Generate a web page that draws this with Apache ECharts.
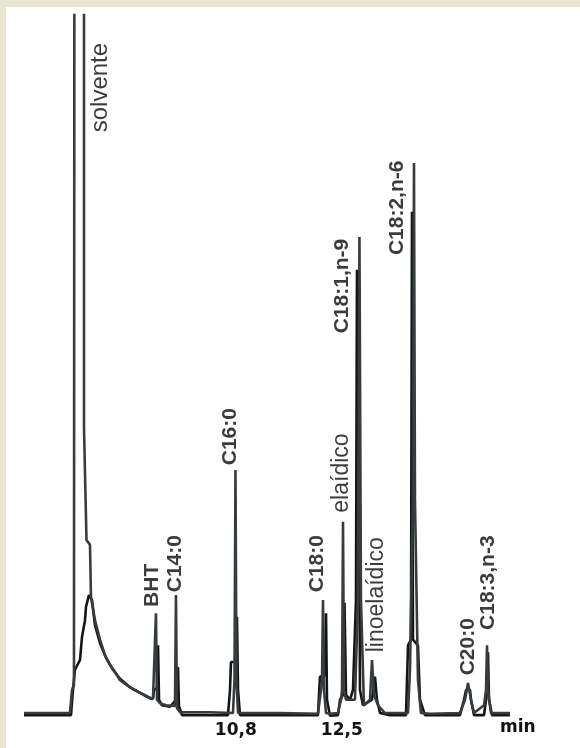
<!DOCTYPE html>
<html><head><meta charset="utf-8">
<script src="https://cdn.jsdelivr.net/npm/echarts@6/dist/echarts.min.js"></script>
<style>
html,body{margin:0;padding:0;background:#e9e5d0;width:580px;height:748px;overflow:hidden}
#panel{position:absolute;left:6px;top:7px;width:574px;height:741px;background:#fff}
#c{position:absolute;left:0;top:0;width:580px;height:748px}
</style></head>
<body><div id="panel"></div><div id="c"></div>
<script>
// Retention time (min) and detector response (arbitrary units) — chromatogram trace A (taller peaks)
const traceATime = [7.40,8.138,8.170,8.202,8.210,8.363,8.363,8.395,8.403,8.459,8.475,8.507,8.539,8.620,8.700,8.780,8.860,8.941,9.053,9.149,9.262,9.374,9.470,
  9.502,9.518,9.534,9.583,9.679,9.823,9.839,9.855,9.904,10.385,
  10.754,10.778,10.794,10.810,10.835,11.509,11.541,12.118,
  12.166,12.183,12.199,12.215,12.247,12.311,12.439,
  12.488,12.504,12.520,12.536,12.568,
  12.712,12.760,12.784,12.808,12.856,
  12.953,12.985,13.017,13.082,13.194,
  13.563,13.595,13.643,13.659,13.675,13.723,13.771,13.916,14.397,
  14.478,14.526,14.574,14.622,
  14.783,14.815,14.831,14.847,14.895,15.2];
const traceAValue = [0,0,3.3,4.0,130,130,40.8,40.8,24.8,24.1,16.6,16.5,13.3,10.5,8.3,6.9,5.9,4.7,4.0,3.4,2.9,2.4,2.0,
  1.9,14.3,1.9,1.4,1.1,1.0,16.9,0.7,0.1,0.1,
  0,4.7,34.8,4.7,0,0,-0.1,-0.1,
  3.3,4.7,16.2,3.3,0,-0.1,0,
  1.9,3.3,27.4,3.3,1.9,
  1.9,16.2,68.2,16.2,1.1,
  1.9,7.6,2.6,1.1,0,
  0,6.2,30.5,78.8,30.5,4.7,0,-0.1,0,
  1.9,4.3,1.9,0,
  1.1,3.3,9.7,3.3,0,0];
// Trace B (second, overlaid chromatogram with shorter peaks)
const traceBTime = [7.40,8.154,8.186,8.218,8.299,8.331,8.379,8.395,8.443,8.491,8.539,8.620,8.716,8.828,8.941,9.101,9.262,9.422,
  9.470,9.486,9.534,9.551,9.567,9.615,9.743,
  9.839,9.871,9.887,9.936,10.674,
  10.706,10.722,10.786,10.818,10.835,10.867,
  12.118,12.150,12.231,12.247,12.263,12.311,12.439,
  12.472,12.520,12.544,12.568,12.632,
  12.680,12.728,12.744,12.768,12.792,12.840,
  12.985,13.033,13.065,13.114,13.274,
  13.531,13.563,13.611,13.627,13.643,13.723,13.755,13.835,14.397,
  14.462,14.494,14.558,14.574,14.622,
  14.783,14.815,14.847,14.863,14.911,15.2];
const traceBValue = [-0.3,-0.3,3.3,6.2,7.6,10.9,13.3,15.2,16.9,16.2,12.6,10.0,7.9,6.2,4.9,3.7,2.9,2.1,
  2.1,3.3,3.6,9.7,1.9,1.1,0.9,
  1.9,6.6,1.0,-0.3,-0.3,
  3.3,7.3,7.3,13.8,3.3,-0.3,
  -0.3,5.2,5.4,14.3,1.9,-0.4,-0.3,
  1.9,2.6,15.8,2.6,1.9,
  3.3,16.2,63.5,59.2,3.3,1.1,
  1.9,5.2,1.9,0,-0.3,
  -0.3,9.7,10.5,71.8,10.5,9.7,1.9,-0.3,-0.3,
  1.9,3.3,3.3,1.9,-0.3,
  -0.3,1.9,8.7,1.9,-0.3,-0.3];
// Peak annotations: name, retention time of label, response at label foot
const peakNames = ['solvente','BHT','C14:0','C16:0','C18:0','elaídico','C18:1,n-9','linoelaídico','C18:2,n-6','C20:0','C18:3,n-3'];
const peakLabelTime = [8.62,9.454,9.823,10.706,12.102,12.504,12.504,13.065,13.386,14.526,14.847];
const peakLabelValue = [83.2,15.2,17.3,35.5,17.3,28.7,54.4,8.7,65.6,5.4,11.9];
// Axis tick labels (min)
const tickValues = [10.8, 12.5];
const axisUnit = 'min';

const normalNames = ['solvente','elaídico','linoelaídico'];
const zip = (a,b) => a.map((t,i) => [t, b[i]]);

const chart = echarts.init(document.getElementById('c'), null, {renderer:'canvas'});
chart.setOption({
  animation:false,
  backgroundColor:'transparent',
  grid:{left:24,right:70,top:15,bottom:28,containLabel:false},
  xAxis:{type:'value',min:7.4,max:15.2,
    axisLine:{show:false},axisTick:{show:false},splitLine:{show:false},
    axisLabel:{customValues:tickValues,margin:2,
      formatter:v=>v.toFixed(1).replace('.',','),
      fontFamily:'DejaVu Sans',fontWeight:'bold',fontSize:17,color:'#111'},
    name:axisUnit,nameLocation:'end',nameGap:-10,
    nameTextStyle:{fontFamily:'DejaVu Sans',fontWeight:'bold',fontSize:17,color:'#111',
      align:'left',verticalAlign:'top',padding:[6,0,0,0]}
  },
  yAxis:{type:'value',min:-1,max:100,show:false,splitLine:{show:false}},
  series:[
    {type:'line',data:zip(traceATime,traceAValue),symbol:'none',clip:true,
     lineStyle:{color:'#383c3f',width:2.6},z:3},
    {type:'line',data:zip(traceBTime,traceBValue),symbol:'none',clip:true,
     lineStyle:{color:'#151515',width:2.6},z:2},
    {type:'scatter',symbolSize:1,itemStyle:{color:'rgba(0,0,0,0)'},z:5,silent:true,
     data:peakNames.map((n,i)=>({name:n,value:[peakLabelTime[i],peakLabelValue[i]],
       label:{fontWeight: normalNames.includes(n)?'normal':'bold',
              fontSize: n==='solvente'?24:(normalNames.includes(n)?23:21)}})),
     label:{show:true,position:'inside',rotate:90,align:'left',verticalAlign:'middle',
       formatter:p=>p.name,fontFamily:'Liberation Sans, Arial',color:'#0a0a0a'}
    }
  ]
});
</script></body></html>
